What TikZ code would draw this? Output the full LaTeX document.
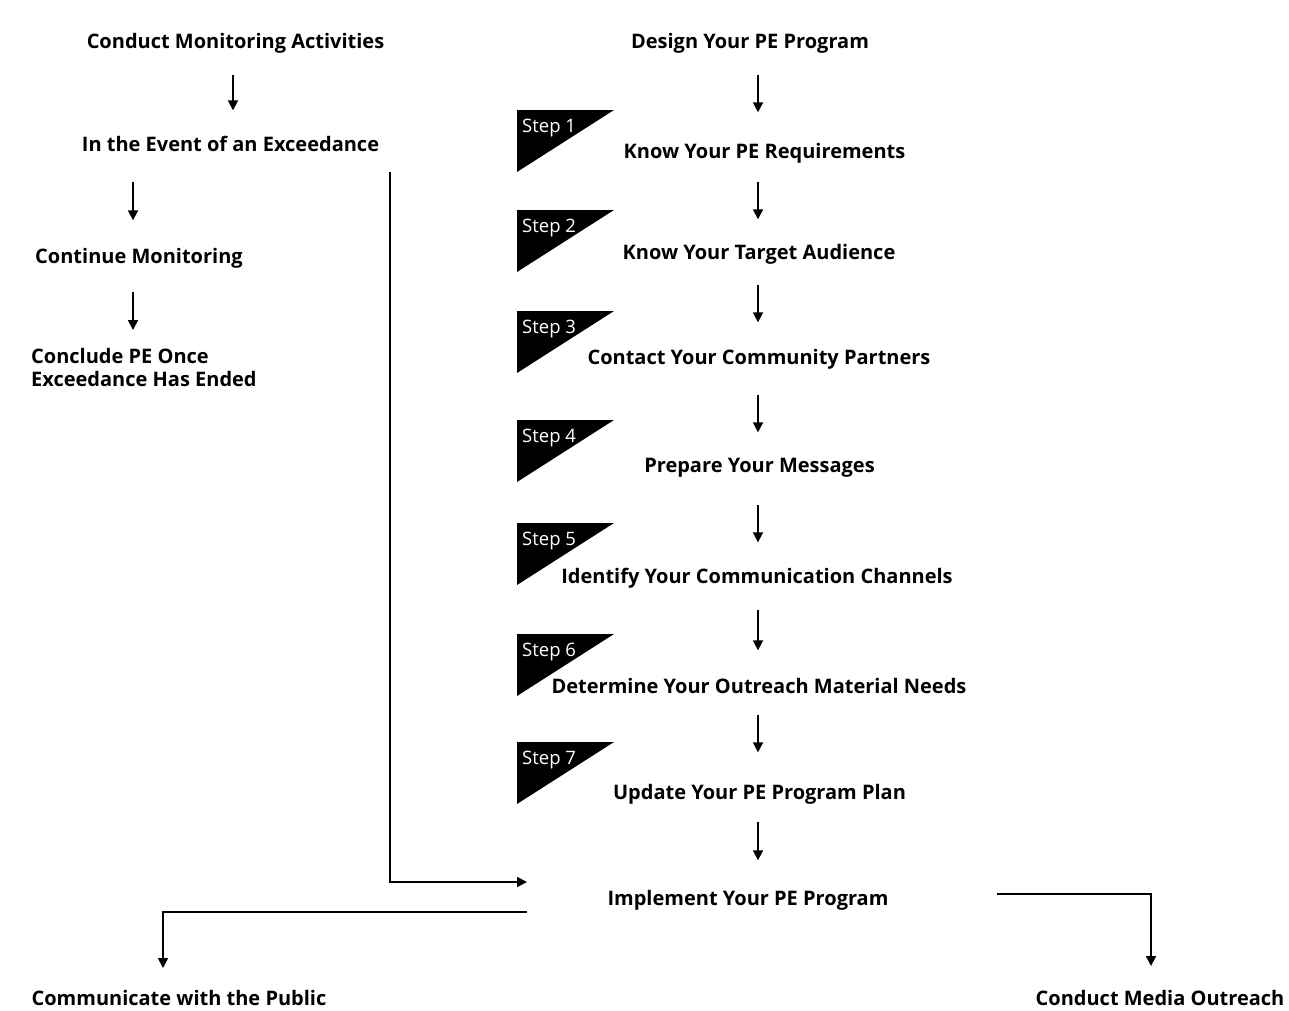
\documentclass[tikz,border=0pt]{standalone}
\usepackage{fontspec}
\setmainfont{Open Sans}
\usetikzlibrary{arrows.meta}
\tikzset{
  lbl/.style={font=\fontsize{20}{23}\selectfont\bfseries, inner sep=0pt, text height=16pt, text depth=1pt},
  arr/.style={line width=1.8pt, -{Triangle[length=10pt,width=10pt]}},
  badge/.style={fill=black},
  steptxt/.style={font=\fontsize{18.5}{21}\selectfont, text=white, inner sep=0pt, anchor=base west}
}
\begin{document}
\begin{tikzpicture}[x=1pt,y=-1pt]
\useasboundingbox (0,0) rectangle (1289,1010);
% left column
\node[lbl] (cma) at (235.5,41) {Conduct Monitoring Activities};
\node[lbl] (ev) at (230.5,144) {In the Event of an Exceedance};
\node[lbl] (cm) at (139,256) {Continue Monitoring};
\node[lbl, anchor=north west, align=left, text height=, text depth=] (con) at (31,348) {Conclude PE Once\\Exceedance Has Ended};
\node[lbl] (pub) at (179,998) {Communicate with the Public};
% right column
\node[lbl] (des) at (750,41) {Design Your PE Program};
\node[lbl] (s1) at (764.5,151) {Know Your PE Requirements};
\node[lbl] (s2) at (759,252) {Know Your Target Audience};
\node[lbl] (s3) at (759,357) {Contact Your Community Partners};
\node[lbl] (s4) at (759.5,465) {Prepare Your Messages};
\node[lbl] (s5) at (757,576) {Identify Your Communication Channels};
\node[lbl] (s6) at (759,686) {Determine Your Outreach Material Needs};
\node[lbl] (s7) at (759.5,792) {Update Your PE Program Plan};
\node[lbl] (imp) at (748,898) {Implement Your PE Program};
\node[lbl] (med) at (1160,998) {Conduct Media Outreach};
% step badges
\foreach \t/\n in {110/1,210/2,311/3,420/4,523/5,634/6,742/7}{
  \fill[badge] (517,\t) -- ++(97,0) -- (517,\t+62) -- cycle;
  \node[steptxt] (b\n) at (522,\t+22) {Step \n};
}
% coordinates
\coordinate (cx) at (758,0);
\coordinate (lx1) at (233,0);
\coordinate (lx2) at (133,0);
\coordinate (vtop) at (390,172);
\coordinate (pIn) at (527,882);
\coordinate (pL) at (527,912);
\coordinate (pR) at (997,894);
\coordinate (pubTop) at (163,968);
\coordinate (medTop) at (1151,966);
% left arrows
\draw[arr, shorten <=25pt, shorten >=25pt] (cma.south -| lx1) -- (ev.north -| lx1);
\draw[arr, shorten <=29pt, shorten >=27pt] (ev.south -| lx2) -- (cm.north -| lx2);
\draw[arr, shorten <=27pt, shorten >=18pt] (cm.south -| lx2) -- (con.north -| lx2);
% right arrows
\draw[arr, shorten <=25pt, shorten >=30pt] (des.south -| cx) -- (s1.north -| cx);
\draw[arr, shorten <=22pt, shorten >=24pt] (s1.south -| cx) -- (s2.north -| cx);
\draw[arr, shorten <=24pt, shorten >=26pt] (s2.south -| cx) -- (s3.north -| cx);
\draw[arr, shorten <=29pt, shorten >=24pt] (s3.south -| cx) -- (s4.north -| cx);
\draw[arr, shorten <=31pt, shorten >=25pt] (s4.south -| cx) -- (s5.north -| cx);
\draw[arr, shorten <=25pt, shorten >=27pt] (s5.south -| cx) -- (s6.north -| cx);
\draw[arr, shorten <=20pt, shorten >=31pt] (s6.south -| cx) -- (s7.north -| cx);
\draw[arr, shorten <=21pt, shorten >=29pt] (s7.south -| cx) -- (imp.north -| cx);
% elbow connectors
\draw[arr] (vtop) |- (pIn);
\draw[arr] (pL) -| (pubTop);
\draw[arr] (pR) -| (medTop);
\end{tikzpicture}
\end{document}
